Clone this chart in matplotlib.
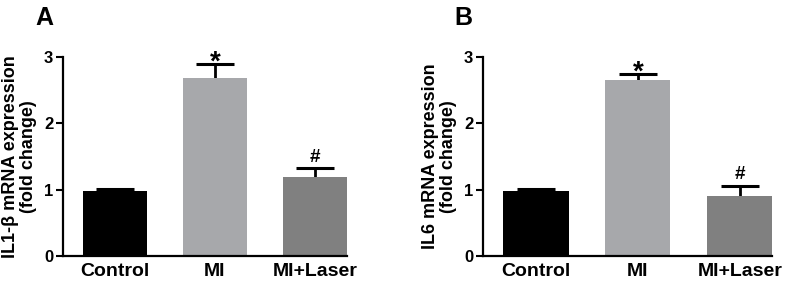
import matplotlib
matplotlib.use("Agg")
import matplotlib.pyplot as plt

plt.rcParams["font.family"] = ["Liberation Sans", "DejaVu Sans"]
plt.rcParams["font.weight"] = "bold"

GROUPS = ["Control", "MI", "MI+Laser"]
COLORS = ["#000000", "#a7a8ab", "#808080"]

IL1B_MEAN = [0.98, 2.69, 1.19]
IL1B_ERR = [0.03, 0.21, 0.14]
IL1B_MARK = ["", "*", "#"]

IL6_MEAN = [0.98, 2.65, 0.91]
IL6_ERR = [0.03, 0.09, 0.15]
IL6_MARK = ["", "*", "#"]


def bar_panel(ax, means, errs, marks, ylabel, letter):
    x = range(len(GROUPS))
    ax.bar(x, means, width=0.64, color=COLORS, zorder=2)
    tops = [m + e for m, e in zip(means, errs)]
    ax.vlines(x, means, tops, color="black", lw=2, zorder=1)
    ax.plot(x, tops, ls="none", marker="_", ms=27, mew=2.2, color="black", zorder=1)
    for xi, t, mk in zip(x, tops, marks):
        if mk == "*":
            ax.annotate(mk, (xi, t), xytext=(0, -4), textcoords="offset points",
                        ha="center", va="baseline", fontsize=20, fontweight="bold")
        elif mk:
            ax.annotate(mk, (xi, t), xytext=(0, 4.5), textcoords="offset points",
                        ha="center", va="baseline", fontsize=13.5, fontweight="bold")

    ax.set_xlim(-0.52, 2.32)
    ax.set_ylim(0, 3)
    ax.set_yticks([0, 1, 2, 3])
    ax.set_xticks(list(x))
    ax.set_xticklabels(GROUPS, fontsize=14, fontweight="bold")
    ax.tick_params(axis="x", length=0, pad=5)
    ax.tick_params(axis="y", length=5, width=1.5, labelsize=12, pad=2)
    for lab in ax.get_yticklabels():
        lab.set_fontweight("bold")
    for s in ["top", "right"]:
        ax.spines[s].set_visible(False)
    for s in ["left", "bottom"]:
        ax.spines[s].set_linewidth(1.6)
    ax.set_ylabel(ylabel, fontsize=13, fontweight="bold", labelpad=5, linespacing=1.05)
    ax.text(-0.035, 1.255, letter, transform=ax.transAxes, fontsize=18,
            fontweight="bold", ha="right", va="top")


fig = plt.figure(figsize=(7.97, 2.81), dpi=100)
ax1 = fig.add_axes([0.079, 0.089, 0.356, 0.708])
ax2 = fig.add_axes([0.606, 0.089, 0.363, 0.708])

bar_panel(ax1, IL1B_MEAN, IL1B_ERR, IL1B_MARK,
          "IL1-\u03b2 mRNA expression\n(fold change)", "A")
bar_panel(ax2, IL6_MEAN, IL6_ERR, IL6_MARK,
          "IL6 mRNA expression\n(fold change)", "B")

fig.savefig("out.png", dpi=100)
